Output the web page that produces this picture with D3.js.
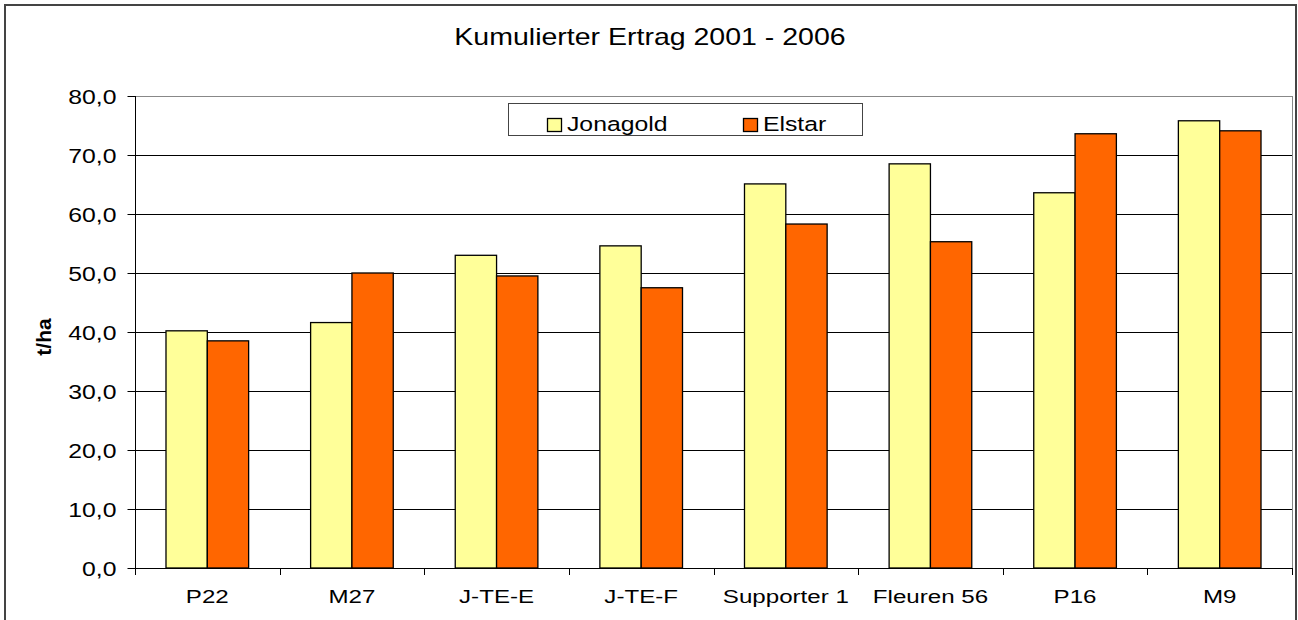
<!DOCTYPE html>
<html>
<head>
<meta charset="utf-8">
<script src="https://cdn.jsdelivr.net/npm/d3@7"></script>
<style>
  body { margin: 0; background: #fff; }
  svg { display: block; font-family: "Liberation Sans", Arial, sans-serif; }
</style>
</head>
<body>
<svg id="chart" width="1298" height="620"></svg>
<script>
const categories = ["P22", "M27", "J-TE-E", "J-TE-F", "Supporter 1", "Fleuren 56", "P16", "M9"];
const seriesNames = ["Jonagold", "Elstar"];
const jonagold = [40.2, 41.6, 53.0, 54.6, 65.1, 68.5, 63.6, 75.8];
const elstar = [38.5, 50.0, 49.5, 47.5, 58.3, 55.3, 73.6, 74.1];
const yTicks = [0, 10, 20, 30, 40, 50, 60, 70, 80];
const colors = ["#ffff99", "#ff6600"];

const svg = d3.select("#chart");
const plotLeft = 135, plotRight = 1292, plotTop = 96, plotBottom = 568;
const sx = 1.27; // the original text is a bit stretched horizontally

// outer frame (bottom edge falls outside the picture)
svg.append("rect")
    .attr("x", 5).attr("y", 5)
    .attr("width", 1291).attr("height", 630)
    .attr("fill", "#fff")
    .attr("stroke", "#444")
    .attr("stroke-width", 2);

svg.append("text")
    .attr("transform", `translate(650,45) scale(1.24,1)`)
    .attr("text-anchor", "middle")
    .attr("font-size", 23)
    .text("Kumulierter Ertrag 2001 - 2006");

const x = d3.scaleBand().domain(categories).range([plotLeft, plotRight]);
const x1 = d3.scaleBand().domain(seriesNames).range([0, x.bandwidth()])
    .paddingOuter(0.75);
const y = d3.scaleLinear().domain([0, 80]).range([plotBottom, plotTop]);

// gridlines
svg.append("g").selectAll("line")
    .data(yTicks.filter(d => d > 0))
    .join("line")
    .attr("x1", plotLeft).attr("x2", plotRight)
    .attr("y1", d => Math.round(y(d)) + 0.5).attr("y2", d => Math.round(y(d)) + 0.5)
    .attr("stroke", d => d === 80 ? "#888" : "#000")
    .attr("stroke-width", 1);

// right edge of plot area
svg.append("line")
    .attr("x1", plotRight + 0.5).attr("x2", plotRight + 0.5)
    .attr("y1", plotTop).attr("y2", plotBottom)
    .attr("stroke", "#888");

// bars
const data = categories.map((c, i) => ({ cat: c, vals: [jonagold[i], elstar[i]] }));
svg.append("g").selectAll("g")
    .data(data)
    .join("g")
    .attr("transform", d => `translate(${x(d.cat)},0)`)
    .selectAll("rect")
    .data(d => d.vals.map((v, j) => ({ s: seriesNames[j], v, j })))
    .join("rect")
    .attr("x", d => x1(d.s))
    .attr("y", d => y(d.v))
    .attr("width", x1.bandwidth())
    .attr("height", d => plotBottom - y(d.v))
    .attr("fill", d => colors[d.j])
    .attr("stroke", "#000")
    .attr("stroke-width", 1.3);

// y axis
const yAxis = svg.append("g")
    .attr("transform", `translate(${plotLeft + 0.5},0)`)
    .call(d3.axisLeft(y).tickValues(yTicks).tickSize(8)
        .tickFormat(d => d3.format(".1f")(d).replace(".", ",")));
yAxis.select(".domain").attr("stroke", "#000").attr("d", `M0,${plotTop}V${plotBottom}`);
yAxis.selectAll(".tick line").attr("stroke", "#000");
yAxis.selectAll(".tick text")
    .attr("font-size", 19.5).attr("font-family", "Liberation Sans, Arial, sans-serif")
    .attr("fill", "#000").attr("x", -19 / sx).attr("dy", "0.36em")
    .attr("transform", `scale(${sx},1)`);

// x axis
const xAxis = svg.append("g")
    .attr("transform", `translate(0,${plotBottom + 0.5})`)
    .call(d3.axisBottom(x).tickSize(0).tickPadding(21));
xAxis.select(".domain").attr("stroke", "#000").attr("d", `M${plotLeft},0H${plotRight}`);
xAxis.selectAll(".tick text")
    .attr("font-size", 19).attr("font-family", "Liberation Sans, Arial, sans-serif")
    .attr("fill", "#000")
    .attr("transform", `scale(${sx},1)`);
// category separator ticks
svg.append("g").selectAll("line")
    .data(d3.range(categories.length + 1))
    .join("line")
    .attr("x1", i => Math.round(plotLeft + i * x.step()) + 0.5)
    .attr("x2", i => Math.round(plotLeft + i * x.step()) + 0.5)
    .attr("y1", plotBottom).attr("y2", plotBottom + 7)
    .attr("stroke", "#000");

// y title
svg.append("text")
    .attr("transform", "translate(51,337) rotate(-90)")
    .attr("text-anchor", "middle")
    .attr("font-size", 21)
    .attr("font-weight", "bold")
    .text("t/ha");

// legend
const legend = svg.append("g");
legend.append("rect")
    .attr("x", 508.5).attr("y", 103.5)
    .attr("width", 354).attr("height", 32)
    .attr("fill", "#fff").attr("stroke", "#444");
const legendX = [547, 743];
seriesNames.forEach((s, i) => {
    legend.append("rect")
        .attr("x", legendX[i] + 0.5).attr("y", 118.5)
        .attr("width", 14).attr("height", 13)
        .attr("fill", colors[i]).attr("stroke", "#000").attr("stroke-width", 1.3);
    legend.append("text")
        .attr("transform", `translate(${legendX[i] + 20},130.5) scale(${sx},1)`)
        .attr("font-size", 19.5)
        .text(s);
});
</script>
</body>
</html>
